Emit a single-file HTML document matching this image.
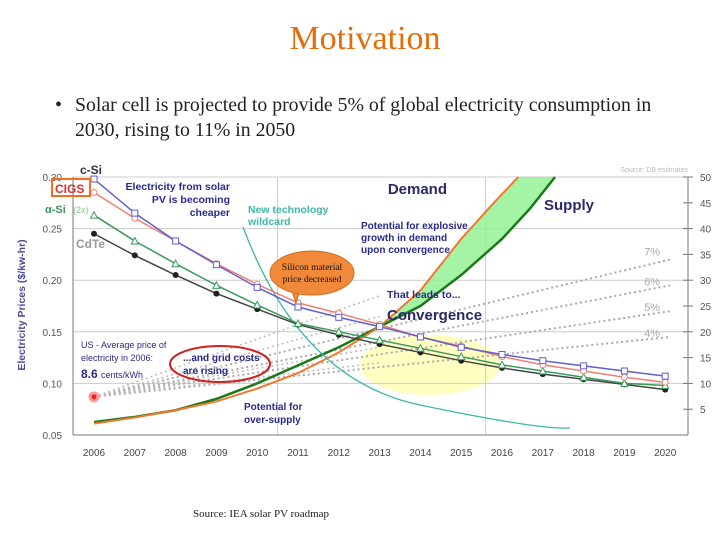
<!DOCTYPE html>
<html><head><meta charset="utf-8"><style>
body{margin:0;width:728px;height:546px;background:#fff;overflow:hidden;font-family:"Liberation Serif",serif}
.t{position:absolute}
</style></head><body>
<div class="t" style="left:0;width:730px;top:20px;text-align:center;font-size:34px;color:#e46c0a">Motivation</div>
<div class="t" style="left:55px;top:93px;width:660px;font-size:19.8px;line-height:25px;color:#222;white-space:nowrap"><span style="position:absolute;left:0">•</span><div style="margin-left:20px">Solar cell is projected to provide 5% of global electricity consumption in<br>2030, rising to 11% in 2050</div></div>
<svg class="t" style="left:0;top:0" width="728" height="546" id="c" font-family="Liberation Sans, sans-serif"></svg>
<div class="t" style="left:193px;top:508px;font-size:11px;color:#222">Source: IEA solar PV roadmap</div>
<script>
const years=[2006,2007,2008,2009,2010,2011,2012,2013,2014,2015,2016,2017,2018,2019,2020];
const cSi=[.298,.265,.238,.215,.193,.174,.164,.155,.145,.135,.128,.122,.117,.112,.107];
const cigs=[.285,.260,.238,.216,.196,.178,.168,.157,.145,.136,.126,.118,.112,.106,.101];
const aSi=[.263,.238,.216,.195,.176,.158,.150,.142,.134,.126,.118,.112,.106,.100,.098];
const cdte=[.245,.224,.205,.187,.172,.157,.147,.138,.130,.122,.115,.109,.104,.099,.094];
const supplyX=[2006,2007,2008,2009,2010,2011,2012,2013,2014,2015,2016,2016.7,2017.3];
const supplyV=[2.5,3.5,4.8,7,10,13.5,17,21,25,31,38,44,50];
const demandX=[2006,2007,2008,2009,2010,2011,2012,2013,2014,2015,2015.8,2016.4];
const demandV=[2.2,3.4,4.8,6.5,9,12,16,21,28,38,45,50];
const leftTicks=[0.05,0.10,0.15,0.20,0.25,0.30];
const rightTicks=[5,10,15,20,25,30,35,40,45,50];
const pctLabels=["7%","6%","5%","4%"];
const pctEnd=[34,29,24,19];
const svg=document.getElementById('c');
const NS='http://www.w3.org/2000/svg';
const X=y=>94+(y-2006)*40.8, Y=v=>435-(v-0.05)*1032, R=v=>435-v*5.16;
function mk(t,a,p){const e=document.createElementNS(NS,t);for(const k in a)e.setAttribute(k,a[k]);(p||svg).appendChild(e);return e;}
function txt(x,y,s,a){const e=mk('text',Object.assign({x:x,y:y},a));e.textContent=s;return e;}
const glow=mk('ellipse',{cx:430,cy:365,rx:70,ry:30,fill:'#ffff99',opacity:.6});

leftTicks.forEach(v=>{const l=mk('line',{x1:73,x2:688,y1:Y(v),y2:Y(v),stroke:'#ccc'});
const t=txt(62,Y(v)+4,v.toFixed(2),{'font-size':10,fill:'#555','text-anchor':'end'});});
[2010.5,2015.6].forEach(v=>{const l=mk('line',{x1:X(v),x2:X(v),y1:177,y2:435,stroke:'#ccc'});});
mk('line',{x1:73,x2:73,y1:177,y2:435,stroke:'#777'});
mk('line',{x1:73,x2:688,y1:435,y2:435,stroke:'#777'});
mk('line',{x1:688,x2:688,y1:177,y2:435,stroke:'#777'});
rightTicks.forEach(v=>{mk('line',{x1:683,x2:693,y1:R(v),y2:R(v),stroke:'#777'});const t=txt(700,R(v)+4,v,{'font-size':10,fill:'#555'});});
years.forEach(y=>{const t=txt(X(y),456,y,{'font-size':10,fill:'#444','text-anchor':'middle'});});
const yt=txt(0,0,'Electricity Prices  ($/kw-hr)',{'font-size':10.5,fill:'#4a4a9a','font-weight':'bold','text-anchor':'middle',transform:'translate(25,305) rotate(-90)'});

pctEnd.forEach((v,i)=>{const l=mk('line',{x1:X(2006),y1:Y(0.087),x2:670,y2:R(v),stroke:'#aaa','stroke-width':2,'stroke-dasharray':'2 3'});
const t=txt(660,R(v)-4+(i==0?0:4),pctLabels[i],{'font-size':11,fill:'#aaa','text-anchor':'end'});});
[27,23,17,14].forEach(v=>mk('line',{x1:X(2006),y1:Y(0.087),x2:X(2013),y2:R(v),stroke:'#bbb','stroke-width':1.5,'stroke-dasharray':'2 3'}));
const rp=mk('circle',{cx:X(2006),cy:Y(0.087),r:4,fill:'#e22',stroke:'#f99','stroke-width':3});
const sp=supplyX.map((x,i)=>[X(x),R(supplyV[i])]), dp=demandX.map((x,i)=>[X(x),R(demandV[i])]);
const pstr=a=>a.map(p=>p.join(',')).join(' ');
const fa=mk('polygon',{points:pstr(dp.slice(7).concat(sp.slice(7).reverse())),fill:'#8ef08e',opacity:.8});
const sl=mk('polyline',{points:pstr(sp),fill:'none',stroke:'#1a7a1a','stroke-width':2.5});
const dl=mk('polyline',{points:pstr(dp),fill:'none',stroke:'#f07830','stroke-width':2});
const tc=mk('path',{d:'M243,227 Q300,380 420,405 T570,428',fill:'none',stroke:'#3bb8a8','stroke-width':1.3});
function series(arr,col,name,mark){const pts=years.map((y,i)=>[X(y),Y(arr[i])]);const l=mk('polyline',{points:pstr(pts),fill:'none',stroke:col,'stroke-width':1.5});
pts.forEach(p=>{let m;if(mark=='sq')m=mk('rect',{x:p[0]-3,y:p[1]-3,width:6,height:6,fill:'#fff',stroke:col});else if(mark=='o')m=mk('circle',{cx:p[0],cy:p[1],r:3,fill:'#fff',stroke:col});else if(mark=='tri')m=mk('polygon',{points:`${p[0]},${p[1]-3.5} ${p[0]-3.5},${p[1]+3} ${p[0]+3.5},${p[1]+3}`,fill:'#fff',stroke:col});else m=mk('circle',{cx:p[0],cy:p[1],r:3,fill:'#222'});});}
series(cdte,'#444','cdte','dot');series(aSi,'#3a9a5a','a-si','tri');series(cigs,'#f08070','cigs','o');series(cSi,'#6060d0','c-si','sq');
const L=(x,y,s,a,n)=>{const t=txt(x,y,s,a);};
L(80,174,'c-Si',{'font-size':12,'font-weight':'bold',fill:'#334'},'c-si-label');
mk('rect',{x:52,y:179,width:38,height:17,fill:'none',stroke:'#f07020','stroke-width':2});
L(55,193,'CIGS',{'font-size':12,'font-weight':'bold',fill:'#e03030'},'cigs-label');
L(45,213,'α-Si',{'font-size':11,'font-weight':'bold',fill:'#3a9a5a'},'a-si-label');
L(73,213,'(2x)',{'font-size':9,fill:'#8c8'},'a-si-2x');
L(76,248,'CdTe',{'font-size':12,'font-weight':'bold',fill:'#999'},'cdte-label');
[['Electricity from solar',190],['PV is becoming',203],['cheaper',216]].forEach(a=>L(230,a[1],a[0],{'font-size':10.5,'font-weight':'bold',fill:'#2a2a8a','text-anchor':'end'},'annotation-cheaper'));
L(248,213,'New technology',{'font-size':10.5,'font-weight':'bold',fill:'#3bb8a8'},'annotation-wildcard');
L(248,225,'wildcard',{'font-size':10.5,'font-weight':'bold',fill:'#3bb8a8'},'annotation-wildcard');
[['Potential for explosive',229],['growth in demand',241],['upon convergence',253]].forEach(a=>L(361,a[1],a[0],{'font-size':10,'font-weight':'bold',fill:'#2a2a8a'},'annotation-explosive'));
L(447,194,'Demand',{'font-size':15,'font-weight':'bold',fill:'#2a2a6a','text-anchor':'end'},'demand-label');
L(544,210,'Supply',{'font-size':15,'font-weight':'bold',fill:'#2a2a6a'},'supply-label');
L(387,298,'That leads to...',{'font-size':10.5,'font-weight':'bold',fill:'#2a2a8a'},'annotation-leads');
L(387,320,'Convergence',{'font-size':15,'font-weight':'bold',fill:'#2a2a6a'},'convergence-label');
L(81,348,'US - Average price of',{'font-size':9,fill:'#2a2a8a'},'us-price-note');
L(81,361,'electricity in 2006:',{'font-size':9,fill:'#2a2a8a'},'us-price-note');
L(81,378,'8.6',{'font-size':12,'font-weight':'bold',fill:'#2a2a8a'},'us-price-value');
L(101,378,'cents/kWh',{'font-size':9,fill:'#2a2a8a'},'us-price-unit');
mk('ellipse',{cx:220,cy:364,rx:50,ry:18,fill:'none',stroke:'#d02020','stroke-width':2});
L(183,361,'...and grid costs',{'font-size':10,'font-weight':'bold',fill:'#2a2a8a'},'annotation-grid');
L(183,374,'are rising',{'font-size':10,'font-weight':'bold',fill:'#2a2a8a'},'annotation-grid');
L(244,410,'Potential for',{'font-size':10,'font-weight':'bold',fill:'#2a2a8a'},'annotation-oversupply');
L(244,423,'over-supply',{'font-size':10,'font-weight':'bold',fill:'#2a2a8a'},'annotation-oversupply');
L(688,172,'Source: DB estimates',{'font-size':7,fill:'#bbb','text-anchor':'end'},'chart-source');
const cb=mk('polygon',{points:'290,285 300,290 296,303',fill:'#f0893a',stroke:'#d07020'});
const ce=mk('ellipse',{cx:312,cy:273,rx:42,ry:22,fill:'#f0893a',stroke:'#d07020'});
L(312,270,'Silicon material',{'font-size':9.5,fill:'#111','text-anchor':'middle','font-family':'Liberation Serif, serif'},'callout-text');
L(312,282,'price decreased',{'font-size':9.5,fill:'#111','text-anchor':'middle','font-family':'Liberation Serif, serif'},'callout-text');
</script>
</body></html>
